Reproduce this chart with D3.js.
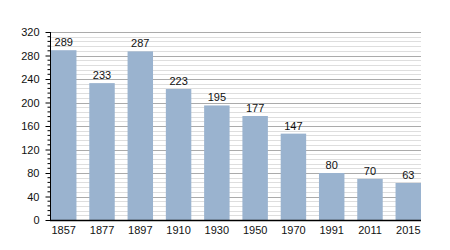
<!DOCTYPE html>
<html>
<head>
<meta charset="utf-8">
<script src="https://cdn.jsdelivr.net/npm/d3@7"></script>
<style>
  body { margin: 0; background: #fff; }
  svg text { font-family: "Liberation Sans", Arial, sans-serif; }
</style>
</head>
<body>
<div id="chart"></div>
<script>
const years = ["1857", "1877", "1897", "1910", "1930", "1950", "1970", "1991", "2011", "2015"];
const population = [289, 233, 287, 223, 195, 177, 147, 80, 70, 63];
const yTicks = [0, 40, 80, 120, 160, 200, 240, 280, 320];

const width = 450, height = 250;
const plotLeft = 50, plotRight = 421, plotTop = 32, plotBottom = 220;

const svg = d3.select("#chart").append("svg")
    .attr("width", width)
    .attr("height", height);

const x = d3.scaleBand()
    .domain(years)
    .range([plotLeft + 1, plotRight])
    .paddingInner(0.335)
    .paddingOuter(0);

const y = d3.scaleLinear()
    .domain([0, 320])
    .range([plotBottom, plotTop]);

// minor grid every 8
const minor = d3.range(8, 321, 8).filter(v => v % 40 !== 0);
svg.append("g").selectAll("line")
    .data(minor)
    .join("line")
    .attr("x1", plotLeft).attr("x2", plotRight)
    .attr("y1", d => Math.round(y(d)) + 0.5)
    .attr("y2", d => Math.round(y(d)) + 0.5)
    .attr("stroke", "#dedede")
    .attr("stroke-width", 1);

// major grid every 40
svg.append("g").selectAll("line")
    .data(yTicks.filter(v => v > 0))
    .join("line")
    .attr("x1", plotLeft).attr("x2", plotRight)
    .attr("y1", d => Math.round(y(d)) + 0.5)
    .attr("y2", d => Math.round(y(d)) + 0.5)
    .attr("stroke", "#ababab")
    .attr("stroke-width", 1);

// bars
svg.append("g").selectAll("rect")
    .data(population)
    .join("rect")
    .attr("x", (d, i) => x(years[i]))
    .attr("width", x.bandwidth())
    .attr("y", d => y(d))
    .attr("height", d => y(0) - y(d))
    .attr("fill", "#9ab3cf");

// value labels
svg.append("g").selectAll("text")
    .data(population)
    .join("text")
    .attr("x", (d, i) => x(years[i]) + x.bandwidth() / 2)
    .attr("y", d => y(d) - 4)
    .attr("text-anchor", "middle")
    .attr("font-size", 11)
    .attr("fill", "#111")
    .text(d => d);

// y axis with minor ticks
const yAxis = svg.append("g").attr("transform", `translate(${plotLeft + 0.5},0)`);
yAxis.call(d3.axisLeft(y).tickValues(yTicks).tickSize(5).tickPadding(6))
    .call(g => g.select(".domain").remove())
    .call(g => g.selectAll("text").attr("font-size", 11).attr("fill", "#111")
        .attr("font-family", "Liberation Sans, Arial, sans-serif"));
yAxis.append("g").selectAll("line")
    .data(minor)
    .join("line")
    .attr("x1", -3).attr("x2", 0)
    .attr("y1", d => y(d)).attr("y2", d => y(d))
    .attr("stroke", "#000");
yAxis.append("line")
    .attr("x1", 0).attr("x2", 0)
    .attr("y1", plotTop).attr("y2", plotBottom)
    .attr("stroke", "#000");

// x axis
const xAxis = svg.append("g").attr("transform", `translate(0,${plotBottom + 0.5})`);
xAxis.call(d3.axisBottom(x).tickSize(0).tickPadding(6))
    .call(g => g.select(".domain").remove())
    .call(g => g.selectAll("text").attr("font-size", 11).attr("fill", "#111")
        .attr("font-family", "Liberation Sans, Arial, sans-serif"));
xAxis.append("line")
    .attr("x1", plotLeft).attr("x2", plotRight)
    .attr("stroke", "#000")
    .attr("stroke-width", 1.5);
</script>
</body>
</html>
